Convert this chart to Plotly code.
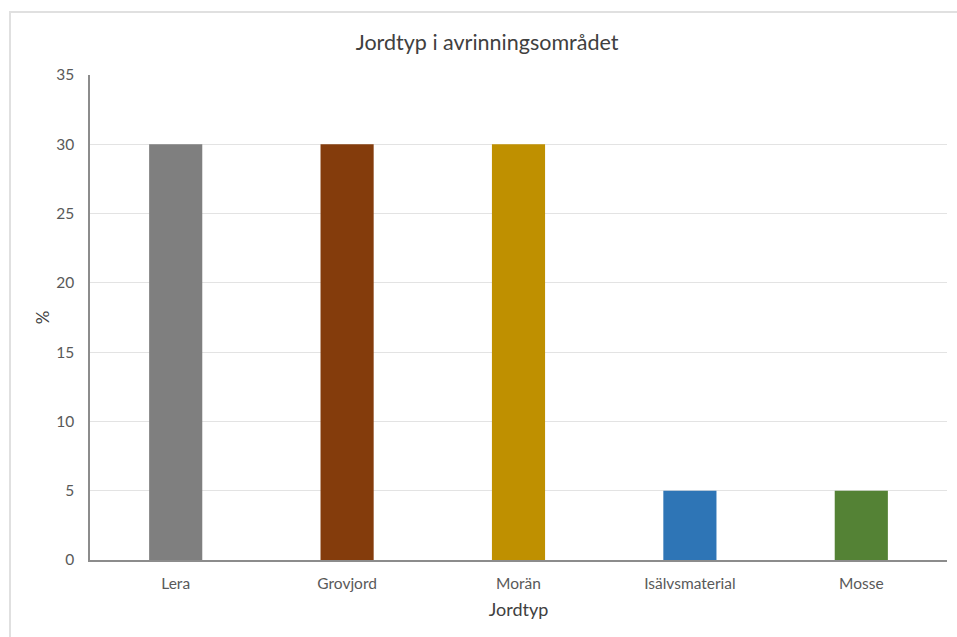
import plotly.graph_objects as go

categories = ["Lera", "Grovjord", "Morän", "Isälvsmaterial", "Mosse"]
values = [30, 30, 30, 5, 5]
colors = ["#7f7f7f", "#843c0c", "#bf9000", "#2e75b6", "#548235"]
y_ticks = [0, 5, 10, 15, 20, 25, 30, 35]

W, H = 957, 637
L, R, T, B = 90, 10, 75, 77
pw, ph = W - L - R, H - T - B

fig = go.Figure()
fig.add_trace(go.Bar(x=categories, y=values, marker=dict(color=colors, line=dict(width=0)),
                     width=0.31, showlegend=False))

font = "Lato, Open Sans, Liberation Sans, sans-serif"
fig.update_layout(
    width=W, height=H,
    margin=dict(l=L, r=R, t=T, b=B),
    paper_bgcolor="white", plot_bgcolor="white",
    font=dict(family=font, color="#595959", size=15.5),
    title=dict(text="Jordtyp i avrinningsområdet", x=0.509, xref="container", xanchor="center",
               y=1 - 42 / H, yref="container", yanchor="middle",
               font=dict(size=21.5, color="#404040", family=font)),
    bargap=0.69,
)
fig.update_xaxes(showline=True, linecolor="#8c8c8c", linewidth=1.5, ticks="",
                 ticklabelstandoff=9,
                 title=dict(text="Jordtyp", font=dict(size=18, color="#404040"), standoff=12),
                 tickfont=dict(size=15.5, color="#595959"))
fig.update_yaxes(range=[0, 35], tickvals=y_ticks, showgrid=True, gridcolor="#e3e3e3", gridwidth=1,
                 showline=True, linecolor="#8c8c8c", linewidth=1.5, ticks="", zeroline=False,
                 ticklabelstandoff=11,
                 title=dict(text="%", font=dict(size=17, color="#404040"), standoff=2),
                 tickfont=dict(size=15.5, color="#595959"))

# outer chart border
fig.add_shape(type="rect", xref="paper", yref="paper",
              x0=(10 - L) / pw, x1=(W + 10 - L) / pw,
              y0=-(B + 10) / ph, y1=(H - 12 - B) / ph,
              line=dict(color="#e0e0e0", width=2), fillcolor="rgba(0,0,0,0)", layer="below")

fig.write_html("out.html")
